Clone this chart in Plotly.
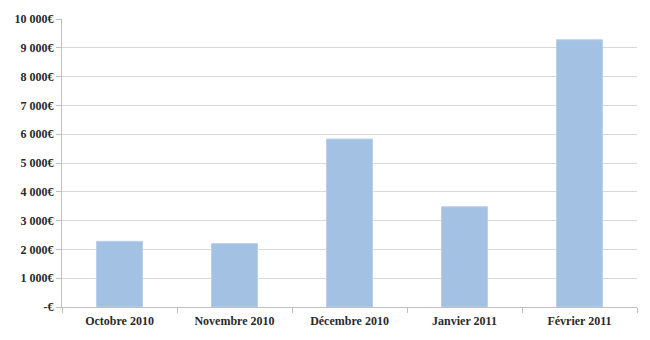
import plotly.graph_objects as go

categories = ["Octobre 2010", "Novembre 2010", "Décembre 2010", "Janvier 2011", "Février 2011"]
values = [2280, 2200, 5830, 3480, 9280]
tick_vals = [0, 1000, 2000, 3000, 4000, 5000, 6000, 7000, 8000, 9000, 10000]
tick_text = ["-€", "1 000€", "2 000€", "3 000€", "4 000€", "5 000€",
             "6 000€", "7 000€", "8 000€", "9 000€", "10 000€"]

SERIF = "Liberation Serif, serif"

fig = go.Figure(go.Bar(
    x=categories, y=values, width=0.4,
    marker=dict(color="#A3C1E3", line=dict(color="#B8D0EC", width=1)),
))

fig.update_layout(
    width=650, height=340,
    margin=dict(l=62, r=13, t=17, b=33),
    paper_bgcolor="white", plot_bgcolor="white",
    showlegend=False,
    font=dict(family=SERIF, size=12, color="#222222"),
    xaxis=dict(
        type="category",
        showline=True, linecolor="#BFBFBF", linewidth=1,
        ticks="outside", tickson="boundaries", ticklen=5, tickcolor="#BFBFBF",
        showgrid=False,
        ticklabelstandoff=3,
        tickfont=dict(family=SERIF, size=12, color="#2a2a2a", weight="bold"),
    ),
    yaxis=dict(
        range=[0, 10000],
        tickvals=tick_vals, ticktext=tick_text,
        showline=True, linecolor="#BFBFBF", linewidth=1,
        ticks="outside", ticklen=5, tickcolor="#BFBFBF",
        showgrid=True, gridcolor="#D9D9D9", gridwidth=1,
        zeroline=False,
        tickfont=dict(family=SERIF, size=12, color="#2a2a2a", weight="bold"),
    ),
)

fig.write_html("out.html")
